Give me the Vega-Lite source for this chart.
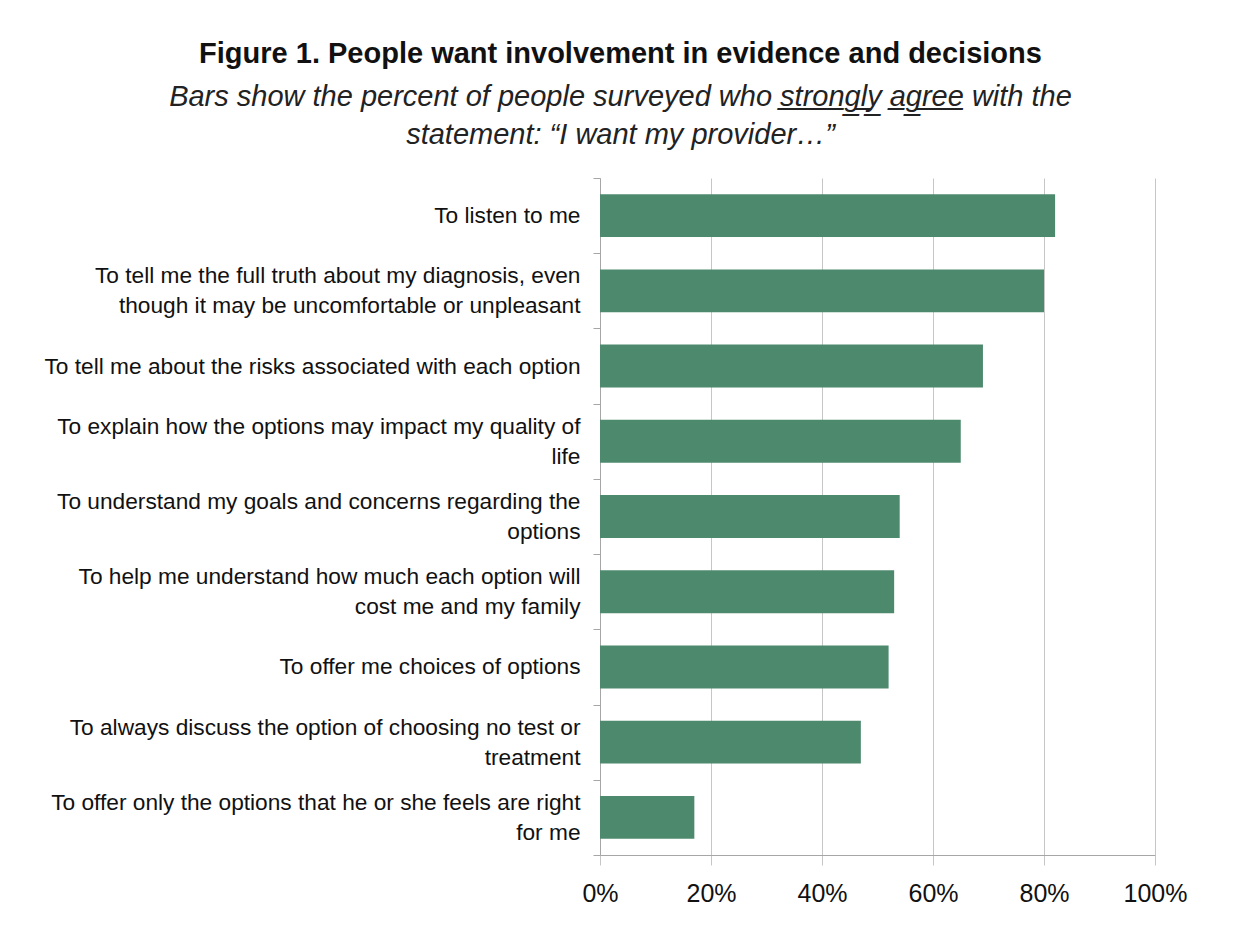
{
  "$schema": "https://vega.github.io/schema/vega-lite/v6.json",
  "autosize": {"type": "none"},
  "width": 555,
  "height": 677,
  "padding": {"left": 600, "top": 178, "right": 78, "bottom": 89},
  "background": "white",
  "title": {
    "text": "Figure 1. People want involvement in evidence and decisions",
    "subtitle": ["Bars show the percent of people surveyed who s\u0332t\u0332r\u0332o\u0332n\u0332g\u0332l\u0332y\u0332 a\u0332g\u0332r\u0332e\u0332e\u0332 with the", "statement: \u201cI want my provider\u2026\u201d"],
    "anchor": "middle",
    "frame": "group",
    "dx": -257,
    "offset": 17,
    "font": "Liberation Sans",
    "fontSize": 29,
    "fontWeight": "bold",
    "color": "#111111",
    "subtitleFont": "Liberation Sans",
    "subtitleFontSize": 29,
    "subtitleFontStyle": "italic",
    "subtitleColor": "#222222",
    "subtitleLineHeight": 38,
    "subtitlePadding": 14
  },
  "data": {
    "values": [
      {"statement": "To listen to me", "pct": 0.82},
      {"statement": "To tell me the full truth about my diagnosis, even\nthough it may be uncomfortable or unpleasant", "pct": 0.80},
      {"statement": "To tell me about the risks associated with each option", "pct": 0.69},
      {"statement": "To explain how the options may impact my quality of\nlife", "pct": 0.65},
      {"statement": "To understand my goals and concerns regarding the\noptions", "pct": 0.54},
      {"statement": "To help me understand how much each option will\ncost me and my family", "pct": 0.53},
      {"statement": "To offer me choices of options", "pct": 0.52},
      {"statement": "To always discuss the option of choosing no test or\ntreatment", "pct": 0.47},
      {"statement": "To offer only the options that he or she feels are right\nfor me", "pct": 0.17}
    ]
  },
  "mark": {"type": "bar", "color": "#4d8a6d", "height": {"band": 0.57}},
  "encoding": {
    "y": {
      "field": "statement",
      "type": "nominal",
      "sort": null,
      "title": null,
      "scale": {"paddingInner": 0, "paddingOuter": 0},
      "axis": {
        "labelExpr": "split(datum.label, '\\n')",
        "labelFont": "Liberation Sans",
        "labelFontSize": 22.7,
        "labelColor": "#111111",
        "labelLineHeight": 30,
        "labelOffset": {"condition": {"test": "indexof(datum.label, '\\n') >= 0", "value": -15}, "value": 0},
        "labelPadding": 13,
        "labelLimit": 700,
        "tickBand": "extent",
        "tickSize": 7,
        "tickColor": "#a6a6a6",
        "domainColor": "#a6a6a6",
        "grid": false
      }
    },
    "x": {
      "field": "pct",
      "type": "quantitative",
      "title": null,
      "scale": {"domain": [0, 1], "nice": false},
      "axis": {
        "values": [0, 0.2, 0.4, 0.6, 0.8, 1],
        "format": ".0%",
        "labelFont": "Liberation Sans",
        "labelFontSize": 25,
        "labelColor": "#111111",
        "labelPadding": 16,
        "labelFlush": false,
        "tickSize": 10,
        "tickColor": "#c6c6c6",
        "domainColor": "#a6a6a6",
        "gridColor": "#c6c6c6",
        "grid": true
      }
    }
  },
  "config": {"view": {"stroke": null}}
}
